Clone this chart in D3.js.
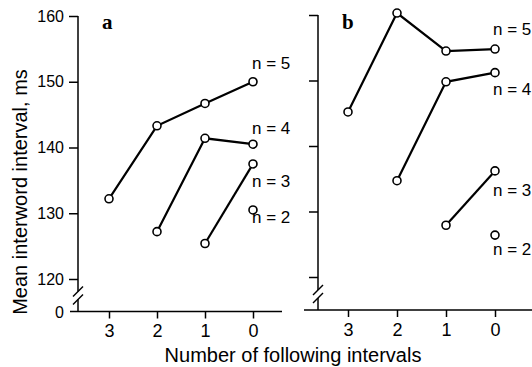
<!DOCTYPE html>
<html lang="en">
<head>
<meta charset="UTF-8">
<title>Interword intervals</title>
<script src="https://d3js.org/d3.v7.min.js"></script>
<style>
    body { margin: 0; background: #fff; }
    svg text { font-family: "Liberation Sans", Arial, sans-serif; fill: #000; }
    .axis path { display: none; }
    .axis line { stroke: #000; stroke-width: 1.5px; }
    .axis text { font-size: 16px; }
    .xaxis text { font-size: 18px; }
    .series { fill: none; stroke: #000; stroke-width: 2.2px; }
    .dot { fill: #fff; stroke: #000; stroke-width: 1.6px; }
    .nlab { font-size: 17px; }
</style>
</head>
<body>
<div id="chart"></div>
<script>
// x categories: number of following intervals
const following = [3, 2, 1, 0];
const yTicks = [120, 130, 140, 150, 160];

// panel a, one array per n (each series ends at 0 following intervals)
const aN5 = [132.2, 143.3, 146.7, 150.0];
const aN4 = [127.2, 141.4, 140.5];
const aN3 = [125.4, 137.5];
const aN2 = [130.5];

// panel b
const bN5 = [145.2, 160.3, 154.5, 154.8];
const bN4 = [134.7, 149.8, 151.2];
const bN3 = [127.9, 136.2];
const bN2 = [126.4];

const seriesLabels = ["n = 5", "n = 4", "n = 3", "n = 2"];

const width = 532, height = 367;
const svg = d3.select("#chart").append("svg")
    .attr("width", width).attr("height", height);

// attach each series to the last x categories
function toPoints(vals) {
    const xs = following.slice(following.length - vals.length);
    return vals.map((v, i) => ({ x: xs[i], y: v }));
}

const panels = [
    {
        letter: "a", axisX: 78, xRange: [109, 253], yRange: [279, 16], base: 311.5,
        lineFrom: 70, lineTo: 282, labels: true,
        series: [aN5, aN4, aN3, aN2],
        labelPos: [[252, 69], [252, 134], [252, 187], [252, 223]]
    },
    {
        letter: "b", axisX: 318, xRange: [348, 495], yRange: [277, 15], base: 310,
        lineFrom: 304, lineTo: 532, labels: false,
        series: [bN5, bN4, bN3, bN2],
        labelPos: [[493, 35], [493, 95], [493, 196], [493, 255]]
    }
];

panels.forEach(p => {
    const x = d3.scalePoint().domain(following).range(p.xRange);
    const y = d3.scaleLinear().domain([120, 160]).range(p.yRange);
    const g = svg.append("g");

    // y ticks
    const yAxis = d3.axisLeft(y).tickValues(yTicks).tickSize(9).tickPadding(5);
    if (!p.labels) yAxis.tickFormat("");
    g.append("g").attr("class", "axis")
        .attr("transform", `translate(${p.axisX},0)`)
        .call(yAxis);

    // vertical axis line with break
    const breakTop = p.base - 20, breakBot = p.base - 12;
    g.append("line").attr("x1", p.axisX).attr("x2", p.axisX)
        .attr("y1", y(160)).attr("y2", breakTop)
        .attr("stroke", "#000").attr("stroke-width", 1.5);
    g.append("line").attr("x1", p.axisX).attr("x2", p.axisX)
        .attr("y1", breakBot).attr("y2", p.base)
        .attr("stroke", "#000").attr("stroke-width", 1.5);
    [breakTop, breakBot].forEach(by => {
        g.append("line")
            .attr("x1", p.axisX - 5).attr("y1", by + 5)
            .attr("x2", p.axisX + 5).attr("y2", by - 5)
            .attr("stroke", "#000").attr("stroke-width", 1.5);
    });

    // baseline and x ticks
    g.append("line").attr("x1", p.lineFrom).attr("x2", p.lineTo)
        .attr("y1", p.base).attr("y2", p.base)
        .attr("stroke", "#000").attr("stroke-width", 1.5);
    g.append("g").attr("class", "axis xaxis")
        .attr("transform", `translate(0,${p.base})`)
        .call(d3.axisBottom(x).tickSize(7).tickPadding(6));

    if (p.labels) {
        g.append("text").attr("x", p.axisX - 14).attr("y", p.base + 6)
            .attr("text-anchor", "end").attr("font-size", 16).text("0");
    }

    // panel letter
    g.append("text").attr("x", p.axisX + 24).attr("y", 29)
        .style("font-family", "'Liberation Serif', serif")
        .attr("font-weight", "bold").attr("font-size", 21)
        .text(p.letter);

    const line = d3.line().x(d => x(d.x)).y(d => y(d.y));
    p.series.forEach((vals, i) => {
        const pts = toPoints(vals);
        if (pts.length > 1) {
            g.append("path").attr("class", "series").attr("d", line(pts));
        }
        g.selectAll(null).data(pts).enter().append("circle")
            .attr("class", "dot")
            .attr("cx", d => x(d.x)).attr("cy", d => y(d.y))
            .attr("r", 4);
        g.append("text").attr("class", "nlab")
            .attr("x", p.labelPos[i][0]).attr("y", p.labelPos[i][1])
            .text(seriesLabels[i]);
    });
});

// axis titles
svg.append("text")
    .attr("transform", "translate(27,192) rotate(-90)")
    .attr("text-anchor", "middle").attr("font-size", 20)
    .text("Mean interword interval, ms");

svg.append("text")
    .attr("x", 293).attr("y", 362)
    .attr("text-anchor", "middle").attr("font-size", 20)
    .text("Number of following intervals");
</script>
</body>
</html>
